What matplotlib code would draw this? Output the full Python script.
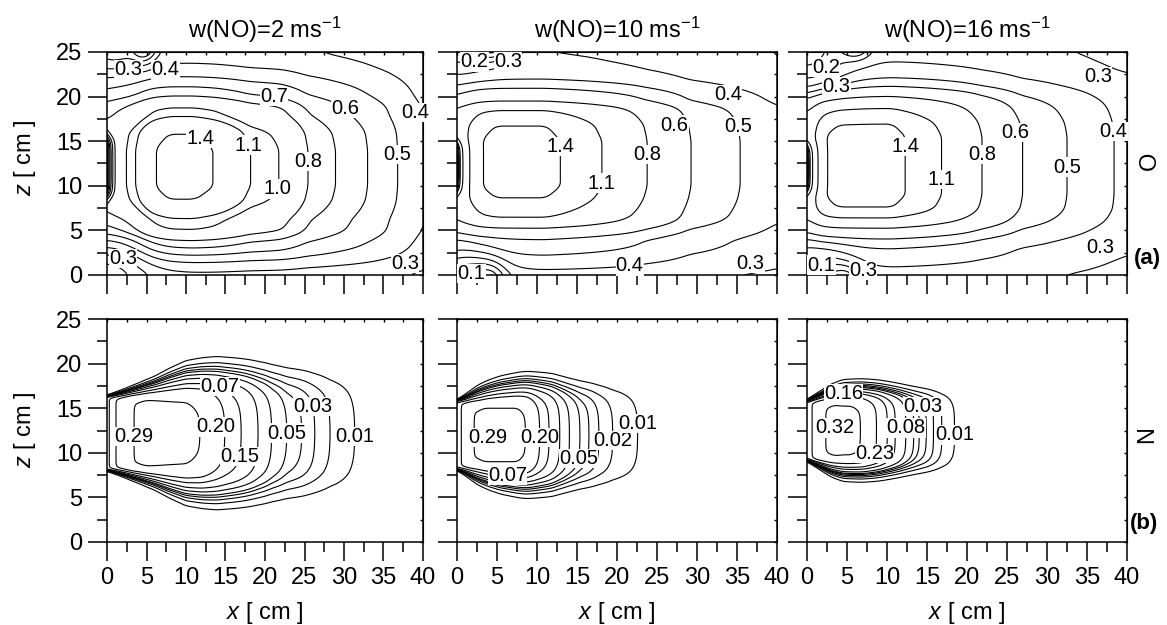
import numpy as np
import matplotlib.pyplot as plt
from matplotlib.ticker import MultipleLocator

plt.rcParams['font.family'] = ['Liberation Sans', 'DejaVu Sans']
plt.rcParams['mathtext.fontset'] = 'custom'
plt.rcParams['mathtext.rm'] = 'Liberation Sans'
plt.rcParams['mathtext.it'] = 'Liberation Sans:italic'
plt.rcParams['mathtext.bf'] = 'Liberation Sans:bold'

titles = ['w(NO)=2 ms$^{-1}$', 'w(NO)=10 ms$^{-1}$', 'w(NO)=16 ms$^{-1}$']

# ---------------- row (a): O ----------------
# contour values read where the lines cross the jet axis (x profile)
# and the x ~ 10 cm column (z profile)
o_levels = [
    [0.1, 0.2, 0.3, 0.4, 0.5, 0.6, 0.7, 0.8, 1.0, 1.1, 1.4],
    [0.1, 0.2, 0.3, 0.4, 0.5, 0.6, 0.8, 1.1, 1.4],
    [0.1, 0.2, 0.3, 0.4, 0.5, 0.6, 0.8, 1.1, 1.4],
]
o_peak = [1.5, 1.52, 1.53]

o1_x = [0, 2.3, 3.7, 6.1, 8, 11, 13.5, 18.0, 21.9, 25.3, 28.9, 33.0, 36.8, 40.4]
o1_fx = [0.9, 1.0, 1.1, 1.4, 1.5, 1.5, 1.4, 1.1, 1.0, 0.8, 0.7, 0.6, 0.5, 0.4]
o1_z = [0, 0.6, 1.4, 2.2, 3.0, 3.9, 5.0, 6.4, 8.4, 10, 14, 15.9, 17.7, 18.8, 20.0, 21.1, 22.2, 23.3, 24.4, 25]
o1_fz = [0.38, 0.42, 0.5, 0.6, 0.7, 0.8, 1.0, 1.1, 1.4, 1.5, 1.5, 1.4, 1.1, 1.0, 0.8, 0.7, 0.6, 0.52, 0.47, 0.45]

o2_x = [0, 1.2, 3.1, 5, 11, 12.9, 18.1, 23.7, 29.1, 35.4, 41.5]
o2_fx = [0.95, 1.1, 1.4, 1.52, 1.52, 1.4, 1.1, 0.8, 0.6, 0.5, 0.4]
o2_z = [0, 0.9, 1.9, 3.0, 4.1, 5.3, 6.4, 8.6, 10, 15, 16.8, 18.5, 19.4, 20.9, 21.9, 22.8, 23.7, 25]
o2_fz = [0.36, 0.42, 0.48, 0.55, 0.6, 0.8, 1.1, 1.4, 1.52, 1.52, 1.4, 1.1, 0.8, 0.6, 0.5, 0.45, 0.42, 0.4]

o3_x = [0, 1.0, 2.25, 4, 10.5, 12.25, 16.8, 21.8, 26.8, 32.5, 38.3, 41]
o3_fx = [0.95, 1.1, 1.4, 1.53, 1.53, 1.4, 1.1, 0.8, 0.6, 0.5, 0.4, 0.37]
o3_z = [0, 0.9, 1.9, 3.0, 4.1, 5.3, 6.4, 7.5, 9, 15.5, 17.0, 18.7, 20.0, 21.1, 22.1, 23.0, 23.9, 25]
o3_fz = [0.36, 0.4, 0.45, 0.5, 0.6, 0.8, 1.1, 1.4, 1.53, 1.53, 1.4, 1.1, 0.8, 0.6, 0.5, 0.44, 0.4, 0.37]

# NO inlet at x = 0 (z range) and depletion there
o_slot = [(8.9, 15.4, 0.85), (9.3, 14.9, 0.8), (9.3, 14.6, 0.8)]
# depleted spots near the corners: centre x, centre z, half widths, depth
o_corners = [
    [(1.0, 25.5, 3.5, 2.5, 0.45), (0.0, 0.0, 5.0, 4.0, 0.6), (4.6, 25.6, 1.5, 1.5, 0.9)],
    [(1.0, 25.5, 3.5, 2.5, 0.4), (1.5, -0.5, 4.0, 3.0, 0.7), (4.3, 25.6, 1.5, 1.4, 0.9),
     (3.9, -0.6, 1.8, 1.6, 0.95)],
    [(0.0, 25.0, 5.0, 4.5, 0.55), (1.5, -0.5, 4.0, 3.0, 0.7), (6.0, 25.7, 1.8, 1.3, 0.9),
     (4.6, -0.6, 2.0, 1.6, 0.95)],
]

o_labels = [
    [(0.3, 2.7, 23.0), (0.4, 7.4, 23.0), (0.7, 21.1, 19.8), (0.6, 29.8, 18.2),
     (0.4, 39.0, 18.2), (1.4, 11.9, 15.4), (1.1, 17.3, 14.3), (0.8, 25.7, 12.7),
     (0.5, 36.7, 13.5), (1.0, 21.3, 9.8), (0.3, 2.3, 2.5), (0.3, 37.7, 1.3)],
    [(0.2, 2.2, 23.9), (0.3, 6.4, 23.9), (0.4, 33.9, 20.2), (0.6, 27.2, 16.8),
     (0.5, 34.5, 16.5), (1.4, 12.8, 14.4), (0.8, 23.4, 13.5), (1.1, 18.1, 10.3),
     (0.1, 1.5, 0.9), (0.4, 21.6, 0.9), (0.3, 36.7, 1.3)],
    [(0.2, 2.4, 23.3), (0.3, 3.7, 21.1), (0.3, 36.4, 22.2), (0.6, 26.0, 16.0),
     (0.4, 37.7, 16.0), (1.4, 11.9, 14.4), (0.8, 21.8, 13.5), (1.1, 16.7, 10.7),
     (0.5, 32.6, 12.1), (0.3, 36.6, 3.1), (0.1, 1.8, 1.1), (0.3, 7.4, 0.9)],
]

# ---------------- row (b): N ----------------
n_levels = [
    [0.01, 0.02, 0.03, 0.04, 0.05, 0.07, 0.10, 0.15, 0.20, 0.29],
    [0.01, 0.02, 0.03, 0.04, 0.05, 0.07, 0.10, 0.15, 0.20, 0.29],
    [0.01, 0.02, 0.03, 0.04, 0.05, 0.06, 0.08, 0.12, 0.16, 0.23, 0.32],
]
n_zc = [12.2, 12.0, 12.5]

n1_x = [0, 0.6, 1.5, 3.3, 5, 10, 11.9, 14.9, 17.0, 19.1, 20.8, 22.7, 24.7, 26.3, 28.2, 31.3, 35, 40]
n1_fx = [0.13, 0.17, 0.22, 0.29, 0.31, 0.31, 0.29, 0.2, 0.15, 0.1, 0.07, 0.05, 0.04, 0.03, 0.02, 0.01, 0.004, 0.001]
n2_x = [0, 0.5, 1.2, 2.0, 3.5, 7.5, 8.7, 10.3, 11.5, 12.8, 14.0, 15.3, 16.5, 17.7, 19.4, 22.5, 27, 40]
n2_fx = [0.15, 0.2, 0.25, 0.29, 0.31, 0.31, 0.29, 0.2, 0.15, 0.1, 0.07, 0.05, 0.04, 0.03, 0.02, 0.01, 0.003, 0.0]
n3_x = [0, 0.5, 1.2, 2.25, 3.5, 5.5, 6.8, 8.7, 10.0, 11.0, 12.3, 13.3, 14.0, 14.9, 15.8, 16.8, 18.3, 22, 40]
n3_fx = [0.16, 0.22, 0.28, 0.32, 0.34, 0.34, 0.32, 0.23, 0.16, 0.12, 0.08, 0.06, 0.05, 0.04, 0.03, 0.02, 0.01, 0.003, 0.0]

# half width of the plume and edge spread vs x
n1_hx = [0, 2, 4, 6, 8, 10, 14, 20, 30, 40]
n1_h = [4.1, 4.3, 4.55, 4.85, 5.2, 5.5, 5.75, 5.9, 6.0, 6.0]
n1_s = [0.15, 0.4, 0.65, 0.9, 1.25, 1.55, 1.85, 2.0, 2.1, 2.2]
n2_hx = [0, 1.3, 2.6, 4, 5.5, 8, 12, 40]
n2_h = [3.8, 3.95, 4.15, 4.4, 4.6, 4.8, 5.0, 5.2]
n2_s = [0.15, 0.5, 0.86, 1.05, 1.2, 1.35, 1.5, 1.7]
n3_hx = [0, 1.5, 3, 4.5, 7, 10, 40]
n3_h = [3.3, 3.6, 3.9, 4.05, 4.1, 4.1, 4.1]
n3_s = [0.15, 0.45, 0.75, 0.95, 1.0, 1.05, 1.1]

n_labels = [
    [(0.07, 14.3, 17.4), (0.03, 25.8, 15.1), (0.29, 3.6, 11.8), (0.20, 13.8, 12.9),
     (0.05, 22.9, 12.2), (0.01, 31.3, 11.8), (0.15, 17.3, 9.5)],
    [(0.29, 3.9, 11.7), (0.20, 10.5, 11.7), (0.05, 14.5, 9.5), (0.02, 19.4, 11.4),
     (0.01, 23.0, 13.3), (0.07, 6.3, 7.5)],
    [(0.16, 4.6, 15.9), (0.32, 3.5, 12.8), (0.23, 8.7, 9.8), (0.08, 12.2, 12.8),
     (0.03, 14.5, 15.2), (0.01, 18.8, 12.0)],
]

o_prof = [(o1_x, o1_fx, o1_z, o1_fz), (o2_x, o2_fx, o2_z, o2_fz), (o3_x, o3_fx, o3_z, o3_fz)]
n_prof = [(n1_x, n1_fx, n1_hx, n1_h, n1_s), (n2_x, n2_fx, n2_hx, n2_h, n2_s),
          (n3_x, n3_fx, n3_hx, n3_h, n3_s)]

xg = np.linspace(0, 40, 401)
zg = np.linspace(0, 25, 251)
X, Z = np.meshgrid(xg, zg)


def smooth(grid, nodes, vals, win=13):
    # profile through the read points, with the corners rounded off
    p = np.interp(grid, nodes, vals)
    k = win // 2
    return np.convolve(np.pad(p, k, mode='edge'), np.ones(win) / win, mode='valid')


def o_field(xs, fx, zs, fz, peak, slot, corners):
    px = smooth(xg, xs, fx, 15)[None, :] / peak
    pz = smooth(zg, zs, fz, 9)[:, None] / peak
    f = peak * (px ** -2 + pz ** -2 - 1) ** -0.5
    z1, z2, depth = slot
    wall = 0.5 * (np.tanh((Z - z1) / 0.8) - np.tanh((Z - z2) / 0.8))
    f = f * (1 - depth * np.exp(-X / 0.6) * wall)
    for cx, cz, rx, rz, d in corners:
        f = f * (1 - d * np.exp(-((X - cx) / rx) ** 2 - ((Z - cz) / rz) ** 2))
    return f


def n_field(xs, fx, hx, h, s, zc):
    px = smooth(xg, xs, fx, 9)[None, :]
    hh = smooth(xg, hx, h, 9)[None, :]
    ss = smooth(xg, hx, s, 9)[None, :]
    return px * 0.5 * (1 + np.tanh((hh - np.abs(Z - zc)) / ss))


def style_axes(ax, xlabels, ylabels):
    ax.set_xlim(0, 40)
    ax.set_ylim(0, 25)
    ax.xaxis.set_major_locator(MultipleLocator(5))
    ax.xaxis.set_minor_locator(MultipleLocator(2.5))
    ax.yaxis.set_major_locator(MultipleLocator(5))
    ax.yaxis.set_minor_locator(MultipleLocator(2.5))
    ax.tick_params(which='major', direction='out', length=14, width=1.1,
                   labelsize=17, pad=4)
    ax.tick_params(which='minor', direction='out', length=7, width=1.1)
    ax.tick_params(labelbottom=xlabels, labelleft=ylabels)
    for sp in ax.spines.values():
        sp.set_linewidth(1.1)
    # tiny inward ticks on the top and right frame
    top = ax.secondary_xaxis('top')
    top.xaxis.set_major_locator(MultipleLocator(2.5))
    top.tick_params(direction='in', length=2.5, width=1, labeltop=False)
    right = ax.secondary_yaxis('right')
    right.yaxis.set_major_locator(MultipleLocator(2.5))
    right.tick_params(direction='in', length=2.5, width=1, labelright=False)


def put_labels(ax, cs, labels, fmt):
    # horizontal labels on a white patch, on the nearest point of that level
    # (kept at the read spot when the drawn line runs elsewhere)
    levs = np.array(cs.levels)
    for lev, lx, lz in labels:
        k = int(np.argmin(np.abs(levs - lev)))
        res = cs.find_nearest_contour(lx, lz, indices=[k], pixel=False)
        tx, tz = res[3], res[4]
        if np.hypot(tx - lx, tz - lz) > 0.8:
            tx, tz = lx, lz
        ax.text(tx, tz, fmt % lev, fontsize=14.5, ha='center', va='center',
                bbox=dict(facecolor='white', edgecolor='none', pad=0.1), zorder=5)


fig = plt.figure(figsize=(11.67, 6.25), dpi=100)
W, H = 1167.0, 625.0
lefts = [107, 457, 807]
widths = [316, 320, 320]

for i in range(3):
    # top row
    ax = fig.add_axes([lefts[i] / W, 1 - 275 / H, widths[i] / W, 223 / H])
    style_axes(ax, False, i == 0)
    xs, fx, zs, fz = o_prof[i]
    F = o_field(xs, fx, zs, fz, o_peak[i], o_slot[i], o_corners[i])
    cs = ax.contour(X, Z, F, levels=o_levels[i], colors='black', linewidths=0.8)
    put_labels(ax, cs, o_labels[i], '%.1f')
    ax.set_title(titles[i], fontsize=17, pad=10)

    # bottom row
    ax = fig.add_axes([lefts[i] / W, 1 - 542 / H, widths[i] / W, 223 / H])
    style_axes(ax, True, i == 0)
    xs, fx, hx, h, s = n_prof[i]
    F = n_field(xs, fx, hx, h, s, n_zc[i])
    cs = ax.contour(X, Z, F, levels=n_levels[i], colors='black', linewidths=0.8)
    put_labels(ax, cs, n_labels[i], '%.2f')
    fig.text((lefts[i] + widths[i] / 2) / W, 1 - 613 / H, '$x$ [ cm ]',
             fontsize=17, ha='center', va='center')

for yc in [158, 430]:
    fig.text(25 / W, 1 - yc / H, '$z$ [ cm ]', fontsize=17, rotation=90,
             ha='center', va='center')

fig.text(1150 / W, 1 - 161 / H, 'O', fontsize=17, rotation=90, ha='center', va='center')
fig.text(1147 / W, 1 - 435 / H, 'N', fontsize=17, rotation=90, ha='center', va='center')
fig.text(1147 / W, 1 - 258 / H, '(a)', fontsize=16, fontweight='bold', ha='center', va='center')
fig.text(1144 / W, 1 - 523 / H, '(b)', fontsize=16, fontweight='bold', ha='center', va='center')

fig.savefig('out.png', dpi=100)
